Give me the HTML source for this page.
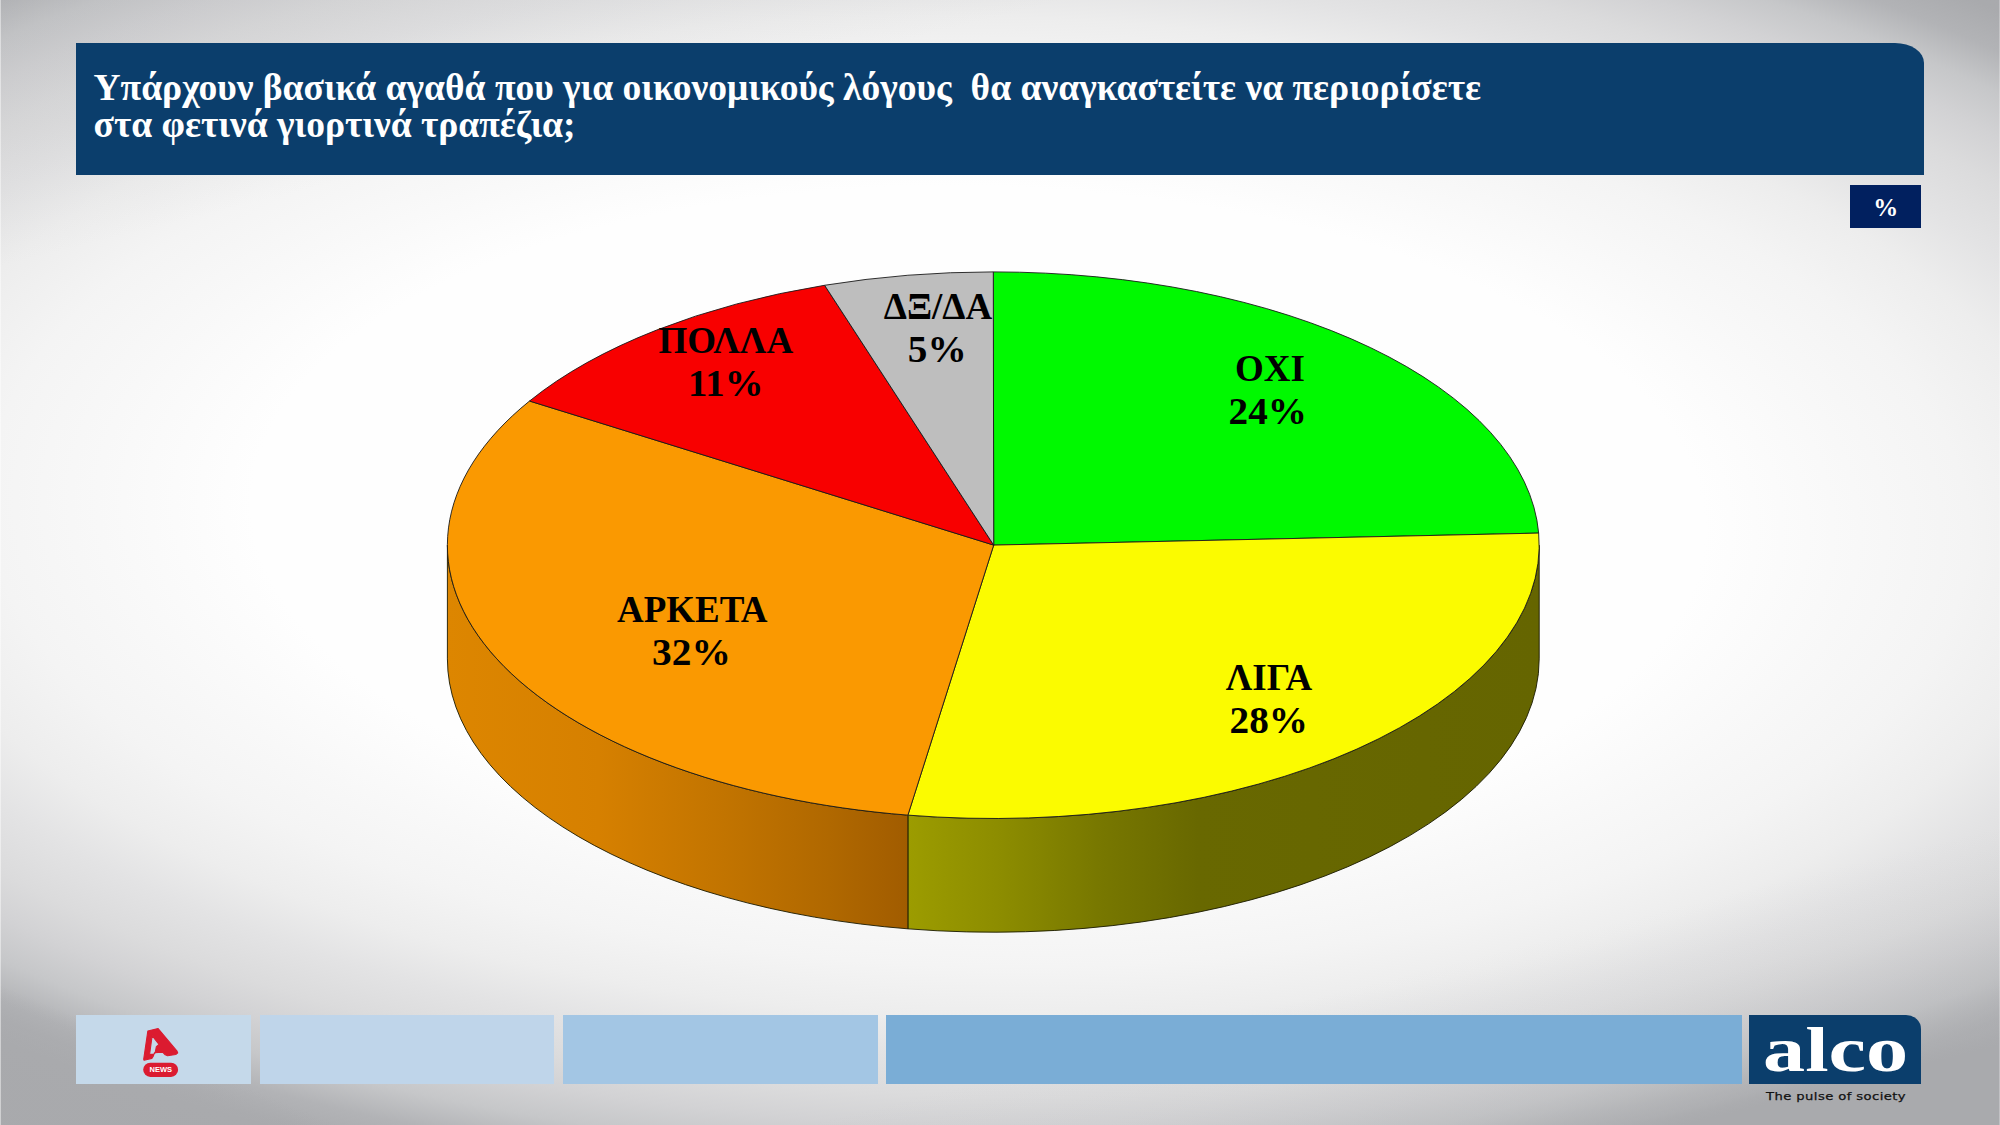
<!DOCTYPE html>
<html lang="el">
<head>
<meta charset="utf-8">
<title>Alco</title>
<style>
html,body{margin:0;padding:0;}
body{width:2000px;height:1125px;overflow:hidden;position:relative;
 font-family:"Liberation Serif","DejaVu Serif",serif;
 background:#e8e8ea;
}
#hdr{position:absolute;left:76.4px;top:42.6px;width:1847.4px;height:132.8px;background:#0b3e6c;border-top-right-radius:29px 20px;}
#title{position:absolute;left:93.5px;top:69px;color:#fff;font-weight:bold;font-size:37.52px;line-height:37.2px;white-space:pre;letter-spacing:0;}
#pct{position:absolute;left:1850.1px;top:184.5px;width:71.3px;height:43.5px;background:#01205f;color:#fff;font-weight:bold;font-size:25px;line-height:45px;text-align:center;}
.fb{position:absolute;top:1015.4px;height:68.5px;}
#f1{left:76.3px;width:175px;background:#c5d9ea;}
#f2{left:259.5px;width:294.5px;background:#bfd5ea;}
#f3{left:562.5px;width:315px;background:#a3c6e4;}
#f4{left:886px;width:855.5px;background:#7aadd6;}
#alco{position:absolute;left:1749.4px;top:1015.4px;width:171.4px;height:68.4px;background:#0b3e6c;border-top-right-radius:15px 14px;}
#alcot{position:absolute;left:1763.2px;top:1018px;color:#fff;font-weight:bold;font-size:64px;line-height:1;transform-origin:0 0;transform:scale(1.317,1);white-space:pre;}
#pulse{position:absolute;left:1766.2px;top:1088.8px;-webkit-text-stroke:.25px #111;font-family:"DejaVu Sans","Liberation Sans",sans-serif;font-size:11px;line-height:16px;letter-spacing:.35px;color:#111;white-space:pre;transform-origin:0 0;transform:scale(1.195,1);}
svg{position:absolute;left:0;top:0;}
#el{position:absolute;left:0;top:0;width:1px;height:1125px;background:rgba(255,255,255,.45);}
#er{position:absolute;left:1999px;top:0;width:1px;height:1125px;background:rgba(255,255,255,.28);}
.lbl{font-family:"Liberation Serif","DejaVu Serif",serif;font-weight:bold;font-size:37px;fill:#000;text-anchor:middle;}
</style>
</head>
<body>
<svg width="2000" height="1125" viewBox="0 0 2000 1125"><defs><radialGradient id="bg" gradientUnits="userSpaceOnUse" cx="0" cy="0" r="760" gradientTransform="translate(978.2 516.4) rotate(1.30) scale(2.201 1)"><stop offset="0.0000" stop-color="#fefefe"/><stop offset="0.4342" stop-color="#fefefe"/><stop offset="0.5263" stop-color="#f8f8f8"/><stop offset="0.5921" stop-color="#f4f4f4"/><stop offset="0.6579" stop-color="#ededed"/><stop offset="0.7105" stop-color="#e3e3e4"/><stop offset="0.7632" stop-color="#dbdbdc"/><stop offset="0.8026" stop-color="#d2d2d4"/><stop offset="0.8421" stop-color="#c6c7c9"/><stop offset="0.8816" stop-color="#b2b3b6"/><stop offset="0.9211" stop-color="#a9aaad"/><stop offset="1.0000" stop-color="#a8a9ac"/></radialGradient><linearGradient id="obr" gradientUnits="userSpaceOnUse" x1="2000" y1="1046" x2="1948.2" y2="838.4"><stop offset="0" stop-color="#a9aaad" stop-opacity="1"/><stop offset=".07" stop-color="#a9aaad" stop-opacity=".6"/><stop offset=".276" stop-color="#a9aaad" stop-opacity=".26"/><stop offset=".64" stop-color="#a9aaad" stop-opacity=".08"/><stop offset="1" stop-color="#a9aaad" stop-opacity="0"/></linearGradient><linearGradient id="otl" gradientUnits="userSpaceOnUse" x1="0" y1="0" x2="63" y2="252"><stop offset="0" stop-color="#a9aaad" stop-opacity=".2"/><stop offset=".5" stop-color="#a9aaad" stop-opacity=".12"/><stop offset="1" stop-color="#a9aaad" stop-opacity="0"/></linearGradient><linearGradient id="obl" gradientUnits="userSpaceOnUse" x1="0" y1="1017" x2="11.5" y2="989.3"><stop offset="0" stop-color="#a9aaad" stop-opacity=".6"/><stop offset="1" stop-color="#a9aaad" stop-opacity="0"/></linearGradient></defs><rect x="0" y="0" width="2000" height="1125" fill="url(#bg)"/><rect x="0" y="0" width="2000" height="1125" fill="url(#obr)"/><rect x="0" y="0" width="2000" height="1125" fill="url(#otl)"/><rect x="0" y="0" width="2000" height="1125" fill="url(#obl)"/></svg>
<div id="el"></div><div id="er"></div>
<div id="hdr"></div>
<div id="title">Υπάρχουν βασικά αγαθά που για οικονομικούς λόγους  θα αναγκαστείτε να περιορίσετε
στα φετινά γιορτινά τραπέζια;</div>
<div id="pct">%</div>
<svg width="2000" height="1125" viewBox="0 0 2000 1125">
<defs>
<linearGradient id="go" gradientUnits="userSpaceOnUse" x1="447" y1="0" x2="908" y2="0">
<stop offset="0" stop-color="#dd8600"/><stop offset=".33" stop-color="#d68000"/><stop offset=".6" stop-color="#c27400"/><stop offset=".83" stop-color="#b06800"/><stop offset="1" stop-color="#a15c00"/>
</linearGradient>
<linearGradient id="gy" gradientUnits="userSpaceOnUse" x1="908" y1="0" x2="1539" y2="0">
<stop offset="0" stop-color="#9c9c00"/><stop offset=".15" stop-color="#8c8c00"/><stop offset=".3" stop-color="#787800"/><stop offset=".46" stop-color="#686800"/><stop offset="1" stop-color="#656500"/>
</linearGradient>
</defs>
<path d="M1539.20 545.20 A545.9 273.3 0 0 1 907.90 815.14 L907.90 928.84 A545.9 273.3 0 0 0 1539.20 658.90 Z" fill="url(#gy)" stroke="#1a1a00" stroke-width="0.9" stroke-linejoin="round"/>
<path d="M907.90 815.14 A545.9 273.3 0 0 1 447.40 545.20 L447.40 658.90 A545.9 273.3 0 0 0 907.90 928.84 Z" fill="url(#go)" stroke="#1a1a00" stroke-width="0.9" stroke-linejoin="round"/>
<path d="M993.70 545.10 L993.30 271.90 A545.9 273.3 0 0 1 1538.66 533.09 Z" fill="#00F900" stroke="#1a1a1a" stroke-width="0.9" stroke-linejoin="round"/>
<path d="M993.70 545.10 L1538.66 533.09 A545.9 273.3 0 0 1 907.90 815.14 Z" fill="#FBFB00" stroke="#1a1a1a" stroke-width="0.9" stroke-linejoin="round"/>
<path d="M993.70 545.10 L907.90 815.14 A545.9 273.3 0 0 1 529.54 401.02 Z" fill="#FA9901" stroke="#1a1a1a" stroke-width="0.9" stroke-linejoin="round"/>
<path d="M993.70 545.10 L529.54 401.02 A545.9 273.3 0 0 1 824.61 285.28 Z" fill="#F80000" stroke="#1a1a1a" stroke-width="0.9" stroke-linejoin="round"/>
<path d="M993.70 545.10 L824.61 285.28 A545.9 273.3 0 0 1 993.30 271.90 Z" fill="#BEBEBE" stroke="#1a1a1a" stroke-width="0.9" stroke-linejoin="round"/>
<text class="lbl" x="1270" y="381.1">ΟΧΙ</text>
<text class="lbl" x="1267.8" y="423.9" textLength="78.4" lengthAdjust="spacingAndGlyphs">24%</text>
<text class="lbl" x="1269" y="690.3">ΛΙΓΑ</text>
<text class="lbl" x="1268.8" y="733.3" textLength="78.4" lengthAdjust="spacingAndGlyphs">28%</text>
<text class="lbl" x="692.3" y="622.1">ΑΡΚΕΤΑ</text>
<text class="lbl" x="691.4" y="665.3" textLength="78.8" lengthAdjust="spacingAndGlyphs">32%</text>
<text class="lbl" x="725.8" y="353.1">ΠΟΛΛΑ</text>
<text class="lbl" x="725.8" y="396.2" textLength="75.4" lengthAdjust="spacingAndGlyphs">11%</text>
<text class="lbl" x="938" y="319.3">ΔΞ/ΔΑ</text>
<text class="lbl" x="937.2" y="362.3" textLength="58.8" lengthAdjust="spacingAndGlyphs">5%</text>
</svg>
<div class="fb" id="f1"></div><div class="fb" id="f2"></div><div class="fb" id="f3"></div><div class="fb" id="f4"></div>
<svg width="2000" height="1125" viewBox="0 0 2000 1125">
<g id="alogo">
<path d="M147.83 1031.06 L158.12 1028.61 L177.04 1051.21 L177.74 1052.92 L175.71 1054.52 L167.56 1055.80 L165.21 1054.84 L162.65 1052.17 L154.50 1052.70 L153.32 1056.12 L151.83 1058.35 L144.10 1060.17 L143.68 1059.21 Z M152.15 1035.59 L159.03 1044.39 L156.36 1046.63 L155.08 1053.18 L153.86 1054.09 L149.59 1054.52 Z" fill="#db1b30" fill-rule="evenodd" stroke="#db1b30" stroke-width="1.1" stroke-linejoin="round"/>
<rect x="143.2" y="1062.7" width="34.9" height="14.2" rx="7.1" fill="#db1b30"/>
<text x="160.8" y="1071.9" font-family="Liberation Sans, DejaVu Sans, sans-serif" font-weight="bold" font-size="7.5" fill="#fff" text-anchor="middle">NEWS</text>
</g>
</svg>
<div id="alco"></div>
<div id="alcot">alco</div>
<div id="pulse">The pulse of society</div>
</body>
</html>
